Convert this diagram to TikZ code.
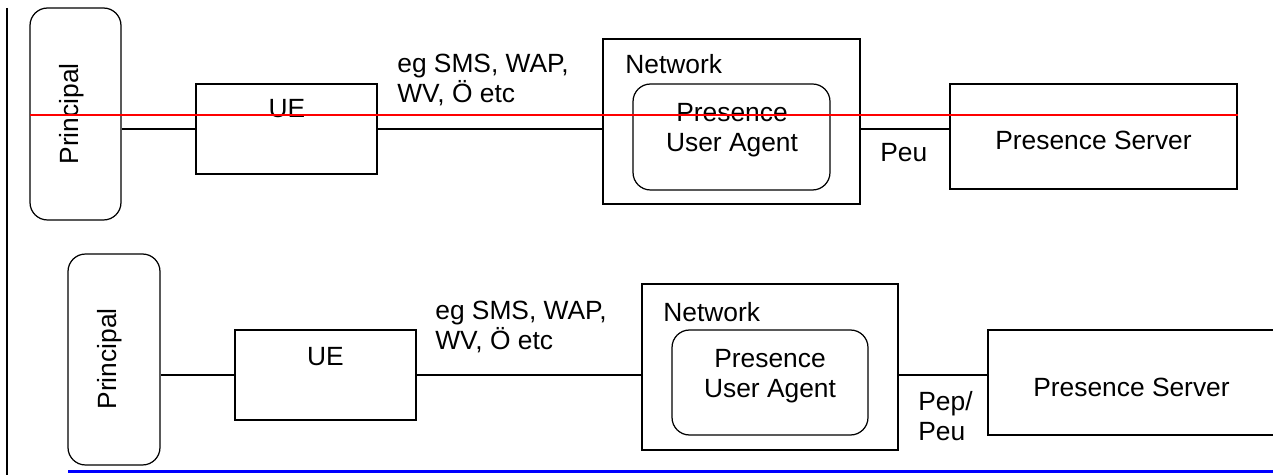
\documentclass[tikz,border=0pt]{standalone}
\usepackage{fontspec}
\setmainfont{Liberation Sans}
\usepackage{tikz}
\usetikzlibrary{positioning}
\definecolor{cutred}{HTML}{FF0000}
\definecolor{cutblue}{HTML}{0000FF}
\tikzset{
  box/.style={draw, line width=0.7pt, inner sep=0pt},
  rbox/.style={box, rounded corners=0.35cm},
  txt/.style={font=\fontsize{15}{17}\selectfont, align=center, inner sep=0pt},
  lbl/.style={txt, align=left, anchor=west},
  lnk/.style={line width=0.7pt},
  rule/.style={line width=#1},
  rule/.default=1.1pt,
}
\begin{document}
\begin{tikzpicture}[x=0.02cm, y=-0.02cm]
    \useasboundingbox (0,0) rectangle (1273,475);
    \draw[rule] (7,8) -- (7,475);
    % upper chain
    \node[rbox, minimum width=1.82cm, minimum height=4.24cm] (prinA) at (75.5,114) {};
    \node[txt, rotate=90] (prinAt) at (72,114) {Principal};
    \node[box, minimum width=3.62cm, minimum height=1.8cm] (ueA) at (286.5,129) {};
    \node[txt] (ueAt) at (287,109) {UE};
    \node[box, minimum width=5.14cm, minimum height=3.3cm] (netA) at (731.5,121.5) {};
    \node[lbl] (netAt) at (625,64) {Network};
    \node[rbox, minimum width=3.94cm, minimum height=2.12cm] (puaA) at (731.5,137) {};
    \node[txt] (puaAt) at (732,130) {Presence\\User Agent};
    \node[box, minimum width=5.74cm, minimum height=2.1cm] (psA) at (1093.5,136.5) {};
    \node[txt] (psAt) at (1093.5,140) {Presence Server};
    \node[lbl] (viaA) at (397,80) {eg SMS, WAP,\\WV, Ö etc};
    \node[lbl] (refA) at (880,153) {Peu};

    \draw[lnk] (ueA.west) -- (ueA.west -| prinA.east);
    \draw[lnk] (ueA.east) -- (ueA.east -| netA.west);
    \draw[lnk] (netA.east |- ueA.east) -- (psA.west |- ueA.east);
    \draw[rule, cutred] (30,115) -- (1238,115);

    % lower chain
    \node[rbox, minimum width=1.84cm, minimum height=4.22cm] (prinB) at (114,359.5) {};
    \node[txt, rotate=90] (prinBt) at (110,359) {Principal};
    \node[box, minimum width=3.62cm, minimum height=1.8cm] (ueB) at (325.5,375) {};
    \node[txt] (ueBt) at (325.5,357) {UE};
    \node[box, minimum width=5.12cm, minimum height=3.32cm] (netB) at (770,367) {};
    \node[lbl] (netBt) at (663,312) {Network};
    \node[rbox, minimum width=3.92cm, minimum height=2.1cm] (puaB) at (770,382.5) {};
    \node[txt] (puaBt) at (770,376) {Presence\\User Agent};
    \node[box, minimum width=5.74cm, minimum height=2.1cm] (psB) at (1131.5,382.5) {};
    \node[txt] (psBt) at (1131.5,387) {Presence Server};
    \node[lbl] (viaB) at (435,327) {eg SMS, WAP,\\WV, Ö etc};
    \node[lbl] (refB) at (918,416) {Pep/\\Peu};

    \draw[lnk] (ueB.west) -- (ueB.west -| prinB.east);
    \draw[lnk] (ueB.east) -- (ueB.east -| netB.west);
    \draw[lnk] (netB.east |- ueB.east) -- (psB.west |- ueB.east);
    \draw[rule=1.7pt, cutblue] (68,471.5) -- (1273,471.5);
\end{tikzpicture}
\end{document}
